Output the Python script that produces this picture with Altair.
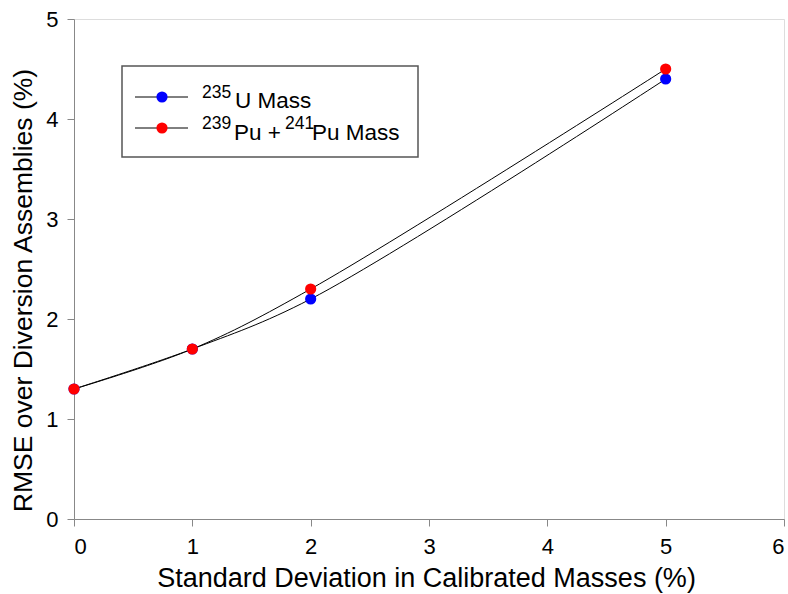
import altair as alt
import pandas as pd

# Calibration spread (%) and resulting RMSE over diversion assemblies (%)
std_dev = [0, 1, 2, 5]
rmse_u235 = [1.3, 1.7, 2.2, 4.4]
rmse_pu = [1.3, 1.7, 2.3, 4.5]

series_names = ["U235", "Pu"]
series_colors = ["#0000ff", "#ff0000"]

rows = []
for name, vals in zip(series_names, [rmse_u235, rmse_pu]):
    for x, y in zip(std_dev, vals):
        rows.append({"series": name, "x": x, "y": y})
df = pd.DataFrame(rows)

FONT = "Liberation Sans"
W, H = 710, 500

x_scale = alt.Scale(domain=[0, 6], nice=False)
y_scale = alt.Scale(domain=[0, 5], nice=False)
color_scale = alt.Scale(domain=series_names, range=series_colors)

x_enc = alt.X(
    "x:Q", scale=x_scale,
    axis=alt.Axis(
        title="Standard Deviation in Calibrated Masses (%)",
        values=[0, 1, 2, 3, 4, 5, 6], format="d", grid=False,
        tickSize=7, labelPadding=10, labelFontSize=22, titleFontSize=27,
        titleFontWeight="normal", labelFont=FONT, titleFont=FONT,
        titleX=352, titleY=67, titleBaseline="alphabetic",
    ),
)
y_enc = alt.Y(
    "y:Q", scale=y_scale,
    axis=alt.Axis(
        title="RMSE over Diversion Assemblies (%)",
        values=[0, 1, 2, 3, 4, 5], format="d", grid=False,
        tickSize=7, labelPadding=9, labelFontSize=22, titleFontSize=26.5,
        titleFontWeight="normal", labelFont=FONT, titleFont=FONT,
        titleX=-51, titleY=271, titleAngle=-90,
        titleAlign="center", titleBaseline="middle",
    ),
)

lines = alt.Chart(df).mark_line(
    color="black", strokeWidth=1, interpolate="catmull-rom"
).encode(x=x_enc, y=y_enc, detail="series:N")

points = alt.Chart(df).mark_circle(size=125, opacity=1).encode(
    x="x:Q", y="y:Q",
    color=alt.Color("series:N", scale=color_scale, legend=None),
    order=alt.Order("series:N", sort="descending"),
)

# Boxed legend with superscripted isotope labels
one = pd.DataFrame({"k": [0]})
legend_box = alt.Chart(one).mark_rect(
    fill="white", stroke="#555555", strokeWidth=1.5
).encode(x=alt.value(48), x2=alt.value(344), y=alt.value(47), y2=alt.value(138))

legend_parts = [legend_box]
for ly, color in [(78, series_colors[0]), (109, series_colors[1])]:
    legend_parts.append(
        alt.Chart(one).mark_rule(color="black", strokeWidth=1).encode(
            x=alt.value(61), x2=alt.value(114), y=alt.value(ly)
        )
    )
    legend_parts.append(
        alt.Chart(one).mark_circle(size=125, opacity=1, color=color).encode(
            x=alt.value(88), y=alt.value(ly)
        )
    )

legend_texts = [
    ("235", 128, 79, 17.5),
    ("U Mass", 161, 89, 22.5),
    ("239", 128, 110, 17.5),
    ("Pu + ", 160, 121, 22.5),
    ("241", 211, 110, 17.5),
    ("Pu Mass", 238, 121, 22.5),
]
for txt, tx, ty, fs in legend_texts:
    legend_parts.append(
        alt.Chart(one).mark_text(
            text=txt, align="left", baseline="alphabetic",
            font=FONT, fontSize=fs, color="black",
        ).encode(x=alt.value(tx), y=alt.value(ty))
    )

chart = alt.layer(lines, points, *legend_parts).properties(
    width=W, height=H,
    autosize=alt.AutoSizeParams(type="none"),
    padding={"left": 74, "top": 19, "right": 4, "bottom": 75},
).configure_view(
    stroke="black", strokeWidth=1
).configure_axis(
    domainColor="black", tickColor="black", labelColor="black",
    titleColor="black", domainWidth=1, tickWidth=1,
).configure(background="white")

chart.save("out.html", embed_options={"renderer": "svg", "actions": False})
